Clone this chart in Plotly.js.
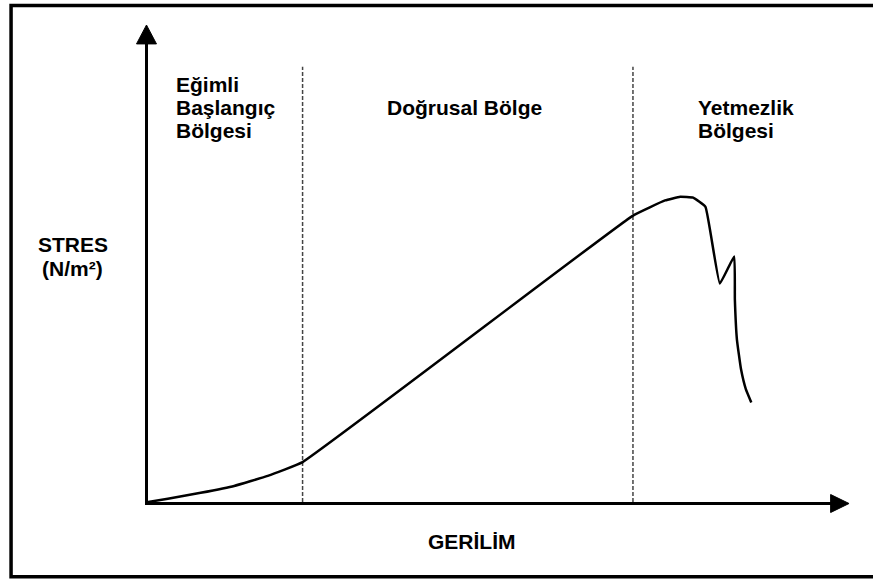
<!DOCTYPE html>
<html>
<head>
<meta charset="utf-8">
<script src="https://cdn.plot.ly/plotly-3.0.1.min.js"></script>
<style>html,body{margin:0;padding:0;background:#fff;}#chart{width:873px;height:579px;}</style>
</head>
<body>
<div id="chart"></div>
<script>
// Stress–strain curve (arbitrary units, 0–100 on both axes)
const strain = [0, 2.9, 7.7, 12.6, 17.5, 22.6, 70.9, 75.6, 77.8, 79.7, 81.5, 83.6, 85.7, 85.8, 86.1, 86.7, 87.4, 88.2];
const stress = [0, 0.7, 2.0, 3.5, 5.7, 8.7, 62.4, 65.7, 66.5, 66.3, 64.3, 47.6, 53.5, 44.1, 35.4, 28.9, 24.6, 21.7];
// Region boundaries (strain) and their top
const regionBounds = [22.6, 70.9];
const regionTop = 94.8;
// Region labels
const regionLines = [
  ["Eğimli", "Başlangıç", "Bölgesi"],
  ["", "Doğrusal Bölge", ""],
  ["", "Yetmezlik", "Bölgesi"]
];
const regionLabelX = [3.8, 34.6, 80.1];
const lineY = [91.0, 86.0, 81.0];
const xTitle = "GERİLİM";
const yTitleLines = ["STRES", "(N/m²)"];

const FONT = "Liberation Sans, Arial, sans-serif";
const annFont = {family: FONT, size: 21, color: "#000"};

const annotations = [];
regionLines.forEach((lines, i) => {
  lines.forEach((t, j) => {
    if (!t) return;
    annotations.push({x: regionLabelX[i], y: lineY[j], xref: "x", yref: "y", text: "<b>" + t + "</b>",
      showarrow: false, xanchor: "left", yanchor: "middle", font: annFont});
  });
});
annotations.push({x: 0.474, y: -0.085, xref: "paper", yref: "paper", text: "<b>" + xTitle + "</b>",
  showarrow: false, xanchor: "center", yanchor: "middle", font: annFont});
annotations.push({x: -0.11, y: 0.561, xref: "paper", yref: "paper", text: "<b>" + yTitleLines[0] + "</b>",
  showarrow: false, xanchor: "center", yanchor: "middle", font: annFont});
annotations.push({x: -0.11, y: 0.508, xref: "paper", yref: "paper", text: "<b>" + yTitleLines[1] + "</b>",
  showarrow: false, xanchor: "center", yanchor: "middle", font: annFont});

const shapes = regionBounds.map(xb => ({type: "line", xref: "x", yref: "y", x0: xb, x1: xb, y0: 0, y1: regionTop,
  line: {color: "#444", width: 1.5, dash: "4px,2px"}, layer: "below"}));
// arrowheads
shapes.push({type: "path", xref: "paper", yref: "paper", path: "M 0.998 0.0163 L 1.0249 -0.0033 L 0.998 -0.0229 Z",
  fillcolor: "#000", line: {color: "#000", width: 1}});
shapes.push({type: "path", xref: "paper", yref: "paper", path: "M -0.0168 0.998 L -0.0022 1.0392 L 0.0124 0.998 Z",
  fillcolor: "#000", line: {color: "#000", width: 1}});
// frame (open on the right, as in the source image)
shapes.push({type: "path", xref: "paper", yref: "paper",
  path: "M 1.5 1.0817 L -0.2002 1.0817 L -0.2002 -0.1627 L 1.5 -0.1627",
  line: {color: "#000", width: 3.5}});

const trace = {x: strain, y: stress, type: "scatter", mode: "lines",
  line: {color: "#000", width: 2.5, shape: "spline", smoothing: 0.3}, hoverinfo: "none"};

const axisCommon = {showgrid: false, zeroline: false, showticklabels: false, ticks: "",
  showline: true, linecolor: "#000", linewidth: 3, fixedrange: true};

Plotly.newPlot("chart", [trace], {
  width: 873, height: 579,
  margin: {l: 148, r: 41, t: 43, b: 77},
  paper_bgcolor: "#fff", plot_bgcolor: "#fff",
  showlegend: false,
  xaxis: Object.assign({range: [0, 100]}, axisCommon),
  yaxis: Object.assign({range: [0, 100]}, axisCommon),
  annotations: annotations,
  shapes: shapes
}, {displayModeBar: false, staticPlot: true});
</script>
</body>
</html>
